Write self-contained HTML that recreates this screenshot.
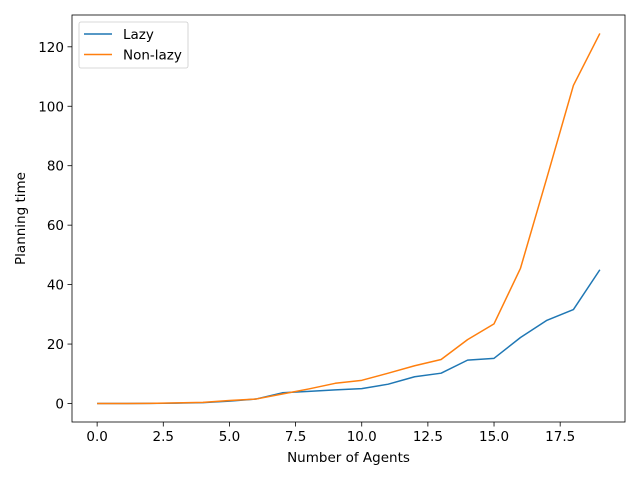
<!DOCTYPE html>
<html><head><meta charset="utf-8"><style>
body{margin:0;background:#fff}
svg{font-family:"DejaVu Sans","Liberation Sans",sans-serif}
</style></head><body>
<svg id="chart" width="640" height="480" xmlns="http://www.w3.org/2000/svg"></svg>
<script>
const agents = [0,1,2,3,4,5,6,7,8,9,10,11,12,13,14,15,16,17,18,19];
const lazyTimes = [0,0,0.05,0.15,0.3,0.8,1.5,3.6,4.1,4.6,5.0,6.5,9.0,10.2,14.6,15.2,22.2,28,31.6,45];
const nonLazyTimes = [0,0,0.05,0.2,0.4,1.0,1.5,3.2,4.9,6.8,7.8,10.2,12.7,14.8,21.5,26.8,45.5,76,107,124.5];
const xTicks = [0,2.5,5,7.5,10,12.5,15,17.5];
const xTickLabels = ["0.0","2.5","5.0","7.5","10.0","12.5","15.0","17.5"];
const yTicks = [0,20,40,60,80,100,120];
const yTickLabels = ["0","20","40","60","80","100","120"];

const L=72,R=625,T=15,B=422;
const xmin=-0.95,xmax=19.95,ymin=-6.22,ymax=130.7;
const sx=v=>L+(v-xmin)/(xmax-xmin)*(R-L);
const sy=v=>B-(v-ymin)/(ymax-ymin)*(B-T);
const svg=document.getElementById('chart');
const NS='http://www.w3.org/2000/svg';
const FS=13.5;
function mk(tag,attrs,parent){const e=document.createElementNS(NS,tag);for(const k in attrs)e.setAttribute(k,attrs[k]);(parent||svg).appendChild(e);return e;}

xTicks.forEach((v,i)=>{
  const g=mk('g',{});
  
  
  mk('line',{x1:sx(v),x2:sx(v),y1:B,y2:B+4.5,stroke:'#000','stroke-width':0.8},g);
  const t=mk('text',{x:sx(v),y:B+19,'text-anchor':'middle','font-size':FS,fill:'#000'},g);
  t.textContent=xTickLabels[i];
});
yTicks.forEach((v,i)=>{
  const g=mk('g',{});
  
  
  mk('line',{x1:L-4.5,x2:L,y1:sy(v),y2:sy(v),stroke:'#000','stroke-width':0.8},g);
  const t=mk('text',{x:L-8,y:sy(v)+5,'text-anchor':'end','font-size':FS,fill:'#000'},g);
  t.textContent=yTickLabels[i];
});
function line(vals,color,name){
  const p=mk('polyline',{points:agents.map((a,i)=>sx(a)+','+sy(vals[i])).join(' '),fill:'none',stroke:color,'stroke-width':1.5,'stroke-linejoin':'round'});
  
  
}
line(lazyTimes,'#1f77b4','lazy-line');
line(nonLazyTimes,'#ff7f0e','non-lazy-line');
const fr=mk('rect',{x:L,y:T,width:R-L,height:B-T,fill:'none',stroke:'#000','stroke-width':0.8});


const xl=mk('text',{x:(L+R)/2,y:462,'text-anchor':'middle','font-size':FS});
xl.textContent='Number of Agents';


const yl=mk('text',{x:25,y:(T+B)/2,'text-anchor':'middle','font-size':FS,transform:'rotate(-90 25 '+((T+B)/2)+')'});
yl.textContent='Planning time';


const lg=mk('g',{});


mk('rect',{x:79,y:22,width:109,height:46,rx:2,fill:'#fff',stroke:'#ccc','stroke-width':0.8},lg);
[['Lazy','#1f77b4'],['Non-lazy','#ff7f0e']].forEach((d,i)=>{
  const e=mk('g',{},lg);
  
  
  const y=34+i*20.5;
  mk('line',{x1:84,x2:112,y1:y,y2:y,stroke:d[1],'stroke-width':1.5},e);
  const t=mk('text',{x:123,y:y+5,'font-size':FS},e);t.textContent=d[0];
});
</script>
</body></html>
